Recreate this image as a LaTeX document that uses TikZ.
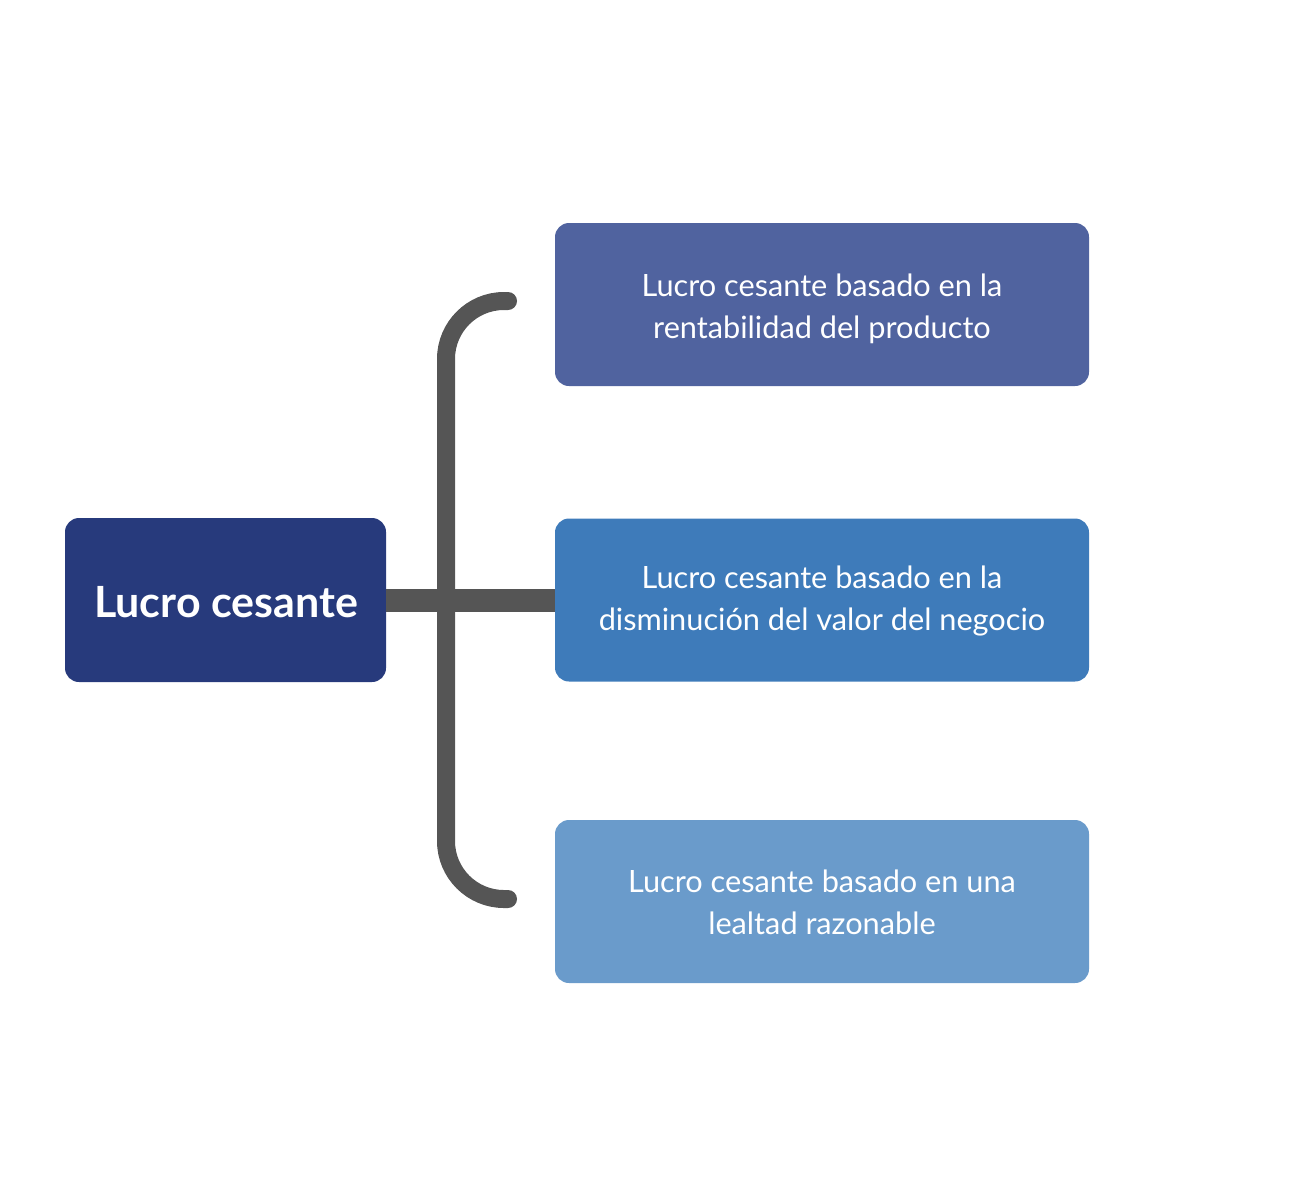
\documentclass[tikz,border=0pt]{standalone}
\usepackage{fontspec}
\setmainfont{Lato}
\definecolor{navy}{HTML}{273A7C}
\definecolor{boxa}{HTML}{50639F}
\definecolor{boxb}{HTML}{3E7BBA}
\definecolor{boxc}{HTML}{6A9BCB}
\definecolor{linegray}{HTML}{555555}
\begin{document}
\begin{tikzpicture}[x=1pt,y=-1pt,
  box/.style={rounded corners=14pt, minimum width=534pt, minimum height=163pt, inner sep=0pt,
    text=white, font=\fontsize{30.7}{42}\selectfont, align=center},
  mainbox/.style={rounded corners=14pt, fill=navy, minimum width=321pt, minimum height=164pt, inner sep=0pt,
    text=white, font=\fontsize{43}{50}\selectfont\bfseries},
  conn/.style={draw=linegray, line width=18pt}]
\useasboundingbox (0,0) rectangle (1300,1200);
\node[mainbox] (main) at (225.5,600) {};
\node[text=white, font=\fontsize{43}{50}\selectfont\bfseries] (maintext) at (226,602) {Lucro cesante};
\node[box, fill=boxa] (b1) at (822,304.5) {};
\node[box, fill=boxb] (b2) at (822,600) {};
\node[box, fill=boxc] (b3) at (822,901.5) {};
\node[box, minimum width=0pt, minimum height=0pt] (t1) at (822,309) {Lucro cesante basado en la\\rentabilidad del producto};
\node[box, minimum width=0pt, minimum height=0pt] (t2) at (822,601) {Lucro cesante basado en la\\disminución del valor del negocio};
\node[box, minimum width=0pt, minimum height=0pt] (t3) at (822,902) {Lucro cesante basado en una\\lealtad razonable};
\coordinate (top) at (508,301);
\coordinate (bot) at (508,899);
\draw[conn, line width=23pt] (main.east) -- (b2.west);
\draw[conn, rounded corners=58pt, line cap=round] (top) -- (446,301) -- (446,899) -- (bot);
\end{tikzpicture}
\end{document}
